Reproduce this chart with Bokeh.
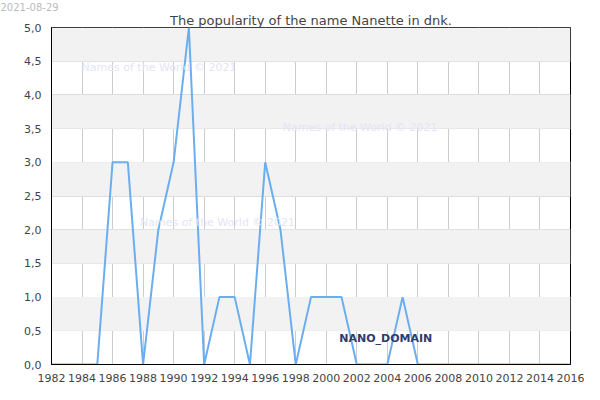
from bokeh.plotting import figure
from bokeh.models import Range1d, FixedTicker, Label, BoxAnnotation, Title
from bokeh.embed import file_html
from bokeh.resources import INLINE

years = list(range(1982, 2017))
counts = [0, 0, 0, 0, 3, 3, 0, 2, 3, 5, 0, 1, 1, 0, 3, 2, 0, 1, 1, 1, 0, 0, 0, 1, 0,
          0, 0, 0, 0, 0, 0, 0, 0, 0, 0]
x_ticks = list(range(1982, 2017, 2))
y_ticks = [0, 0.5, 1, 1.5, 2, 2.5, 3, 3.5, 4, 4.5, 5]
y_labels = ["0,0", "0,5", "1,0", "1,5", "2,0", "2,5", "3,0", "3,5", "4,0", "4,5", "5,0"]
band_starts = [0.5, 1.5, 2.5, 3.5, 4.5]

FONT = "DejaVu Sans"
W, H = 584, 384
BL, BR, BT, BB = 51, 14, 22, 16

p = figure(width=W, height=H, output_backend="svg", toolbar_location=None,
           x_range=Range1d(1982, 2016), y_range=Range1d(0, 5),
           min_border_left=BL, min_border_right=BR, min_border_top=BT, min_border_bottom=BB)
p.outline_line_color = "black"
p.outline_line_width = 1
p.background_fill_color = "white"

# date on top row
p.title.text = "2021-08-29"
p.title.align = "left"
p.title.text_font = FONT
p.title.text_font_size = "10px"
p.title.text_font_style = "normal"
p.title.text_color = "#bbbbbb"
p.title.standoff = 0
p.title.offset = -BL

p.add_layout(Title(text="The popularity of the name Nanette in dnk.", align="center",
                   text_font=FONT, text_font_size="13px", text_font_style="normal",
                   text_color="#444444", standoff=0, offset=0),
             "above")

for b in band_starts:
    p.add_layout(BoxAnnotation(bottom=b, top=b + 0.5, fill_color="#f2f2f2", fill_alpha=1,
                               line_alpha=0, level="underlay"))

p.xaxis.ticker = FixedTicker(ticks=x_ticks)
p.yaxis.ticker = FixedTicker(ticks=y_ticks)
p.yaxis.major_label_overrides = {t: l for t, l in zip(y_ticks, y_labels)}
p.xaxis.major_label_overrides = {t: str(t) for t in x_ticks}
for ax in (p.xaxis, p.yaxis):
    ax.major_tick_line_color = None
    ax.minor_tick_line_color = None
    ax.axis_line_color = "black"
    ax.major_label_text_font = FONT
    ax.major_label_text_font_size = "11px"
    ax.major_label_text_color = "#444444"
    ax.major_label_standoff = 4
p.xaxis.major_label_standoff = 3
p.xgrid.grid_line_color = "#cccccc"
p.ygrid.grid_line_color = "#dddddd"
p.xgrid.level = "underlay"
p.ygrid.level = "underlay"

# watermarks
for (wx, wy) in [(1983.97, 4.41), (1997.15, 3.52), (1987.8, 2.1)]:
    p.add_layout(Label(x=wx, y=wy, text="Names of the World © 2021", text_font=FONT,
                       text_font_size="11px", text_color="#e4e4f6", text_baseline="middle"))

p.line(years, counts, line_color="#6aaef0", line_width=2)

p.add_layout(Label(x=2000.85, y=0.39, text="NANO_DOMAIN", text_font=FONT,
                   text_font_size="11px", text_font_style="bold", text_color="#2f3a6e",
                   text_baseline="middle"))

open("out.html", "w").write(file_html(p, INLINE))
